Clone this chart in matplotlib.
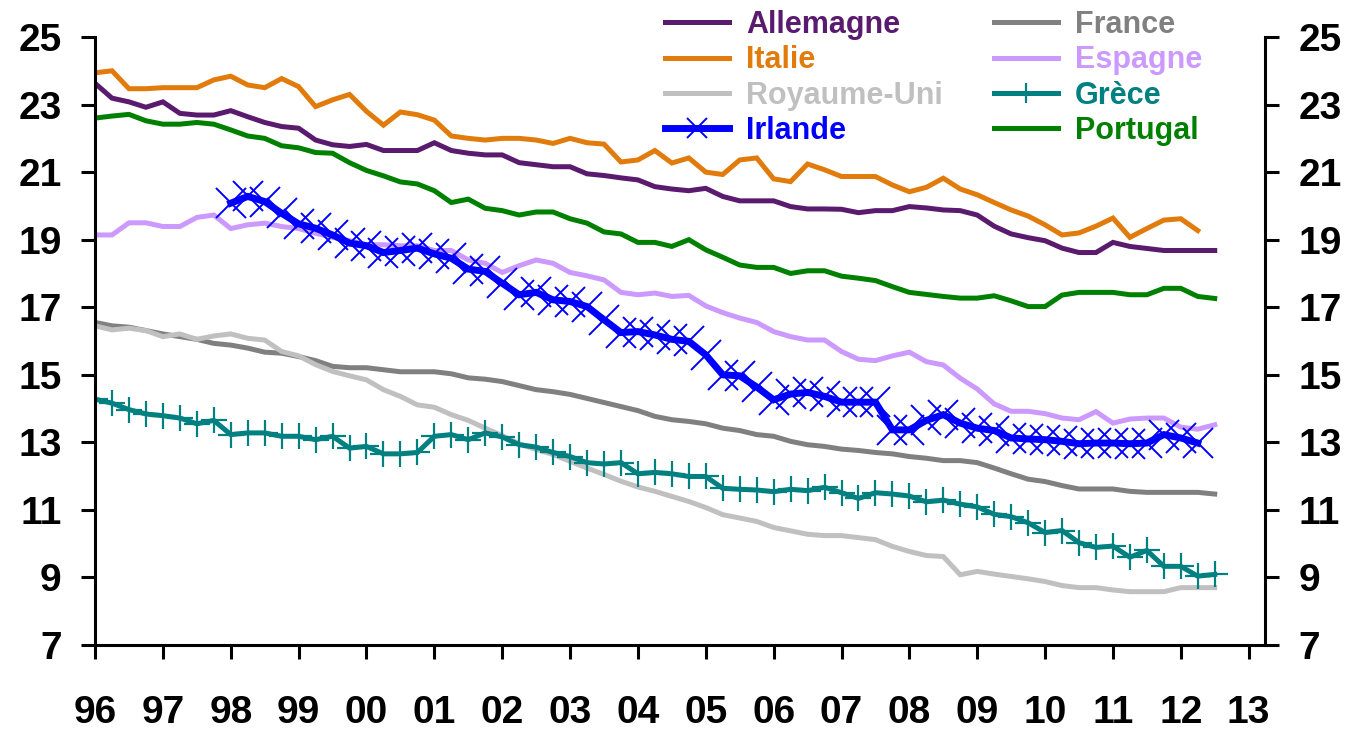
import numpy as np
import matplotlib
matplotlib.use("Agg")
import matplotlib.pyplot as plt

# Quarterly series, first point = 1996 Q1
allemagne = [23.63, 23.19, 23.08, 22.92, 23.08, 22.74, 22.69, 22.69, 22.82, 22.64,
             22.47, 22.35, 22.30, 21.95, 21.81, 21.76, 21.82, 21.64, 21.64, 21.64,
             21.87, 21.64, 21.56, 21.51, 21.51, 21.28, 21.22, 21.16, 21.16, 20.95,
             20.90, 20.83, 20.77, 20.57, 20.50, 20.45, 20.52, 20.28, 20.15, 20.15,
             20.15, 19.98, 19.91, 19.91, 19.90, 19.80, 19.86, 19.86, 19.98, 19.94,
             19.88, 19.86, 19.73, 19.40, 19.17, 19.06, 18.97, 18.75, 18.62, 18.62,
             18.92, 18.80, 18.74, 18.68, 18.68, 18.68, 18.68]
italie = [23.94, 24.00, 23.47, 23.47, 23.50, 23.50, 23.50, 23.73, 23.84, 23.58,
          23.50, 23.77, 23.53, 22.94, 23.14, 23.30, 22.80, 22.39, 22.78, 22.70,
          22.54, 22.07, 22.00, 21.95, 22.00, 22.00, 21.95, 21.85, 22.00, 21.87,
          21.83, 21.30, 21.36, 21.64, 21.27, 21.42, 21.00, 20.93, 21.36, 21.42,
          20.80, 20.72, 21.24, 21.07, 20.87, 20.87, 20.87, 20.62, 20.42, 20.55,
          20.82, 20.50, 20.33, 20.10, 19.88, 19.70, 19.44, 19.14, 19.20, 19.40,
          19.64, 19.07, 19.33, 19.58, 19.62, 19.27]
royaume_uni = [16.45, 16.33, 16.38, 16.31, 16.13, 16.21, 16.05, 16.15, 16.21, 16.08,
               16.03, 15.69, 15.56, 15.30, 15.10, 14.97, 14.85, 14.56, 14.36, 14.11,
               14.04, 13.82, 13.65, 13.42, 13.20, 12.96, 12.79, 12.64, 12.44, 12.24,
               12.05, 11.85, 11.68, 11.55, 11.40, 11.25, 11.07, 10.86, 10.76, 10.66,
               10.48, 10.38, 10.28, 10.24, 10.24, 10.18, 10.12, 9.92, 9.77, 9.65,
               9.62, 9.08, 9.18, 9.10, 9.03, 8.96, 8.88, 8.76, 8.70, 8.70,
               8.63, 8.58, 8.58, 8.58, 8.70, 8.70, 8.70]
irlande = [np.nan] * 8 + [
           20.08, 20.28, 20.13, 19.78, 19.47, 19.34, 19.14, 18.90, 18.82, 18.62,
           18.68, 18.75, 18.58, 18.45, 18.13, 18.06, 17.71, 17.37, 17.44, 17.22,
           17.17, 17.02, 16.63, 16.25, 16.28, 16.18, 16.05, 15.99, 15.59, 15.00,
           14.97, 14.64, 14.26, 14.43, 14.48, 14.36, 14.19, 14.19, 14.19, 13.37,
           13.37, 13.65, 13.82, 13.57, 13.42, 13.35, 13.13, 13.10, 13.08, 13.03,
           12.96, 12.98, 12.98, 12.96, 12.98, 13.23, 13.13, 12.98]
france = [16.55, 16.45, 16.41, 16.31, 16.21, 16.13, 16.05, 15.93, 15.88, 15.79,
          15.67, 15.64, 15.54, 15.42, 15.25, 15.21, 15.21, 15.15, 15.09, 15.09,
          15.09, 15.03, 14.91, 14.87, 14.80, 14.68, 14.56, 14.50, 14.42, 14.30,
          14.18, 14.06, 13.94, 13.77, 13.67, 13.62, 13.55, 13.42, 13.35, 13.23,
          13.18, 13.03, 12.93, 12.88, 12.80, 12.76, 12.70, 12.66, 12.58, 12.53,
          12.46, 12.46, 12.40, 12.24, 12.07, 11.91, 11.84, 11.72, 11.62, 11.62,
          11.62, 11.55, 11.52, 11.52, 11.52, 11.52, 11.47]
espagne = [19.14, 19.14, 19.50, 19.50, 19.39, 19.39, 19.66, 19.73, 19.33, 19.44,
           19.49, 19.39, 19.33, 19.19, 19.07, 18.97, 18.85, 18.85, 18.82, 18.82,
           18.68, 18.68, 18.40, 18.30, 18.03, 18.23, 18.40, 18.30, 18.03, 17.93,
           17.81, 17.44, 17.37, 17.42, 17.32, 17.35, 17.04, 16.84, 16.68, 16.55,
           16.28, 16.13, 16.03, 16.03, 15.69, 15.46, 15.42, 15.56, 15.67, 15.39,
           15.29, 14.90, 14.58, 14.14, 13.92, 13.92, 13.85, 13.72, 13.67, 13.91,
           13.57, 13.69, 13.72, 13.72, 13.45, 13.39, 13.52]
grece = [14.28, 14.16, 13.97, 13.84, 13.79, 13.72, 13.55, 13.65, 13.23, 13.28,
         13.28, 13.18, 13.18, 13.08, 13.18, 12.83, 12.88, 12.66, 12.66, 12.70,
         13.18, 13.23, 13.08, 13.28, 13.16, 12.93, 12.86, 12.70, 12.58, 12.40,
         12.36, 12.40, 12.07, 12.11, 12.07, 11.99, 11.99, 11.64, 11.61, 11.59,
         11.54, 11.61, 11.57, 11.67, 11.51, 11.34, 11.51, 11.47, 11.41, 11.24,
         11.29, 11.17, 11.09, 10.87, 10.80, 10.62, 10.33, 10.39, 10.03, 9.89,
         9.93, 9.60, 9.80, 9.33, 9.33, 9.04, 9.09]
portugal = [22.60, 22.66, 22.71, 22.52, 22.42, 22.42, 22.47, 22.42, 22.25, 22.07,
            22.00, 21.78, 21.72, 21.58, 21.56, 21.28, 21.05, 20.89, 20.71, 20.65,
            20.45, 20.10, 20.20, 19.93, 19.86, 19.73, 19.82, 19.82, 19.62, 19.49,
            19.23, 19.17, 18.92, 18.92, 18.80, 19.00, 18.70, 18.48, 18.25, 18.18,
            18.18, 18.00, 18.08, 18.08, 17.92, 17.86, 17.79, 17.61, 17.44, 17.38,
            17.32, 17.27, 17.27, 17.34, 17.19, 17.02, 17.02, 17.36, 17.44, 17.44,
            17.44, 17.37, 17.37, 17.56, 17.56, 17.32, 17.26]

annees = list(range(1996, 2014))
labels_annees = [str(a)[2:] for a in annees]
y_ticks = [7, 9, 11, 13, 15, 17, 19, 21, 23, 25]


def trimestres(serie):
    return 1996 + np.arange(len(serie)) / 4.0


plt.rcParams['font.family'] = ['Liberation Sans', 'DejaVu Sans']
plt.rcParams['font.weight'] = 'bold'

fig = plt.figure(figsize=(13.5, 7.33), dpi=100)
ax = fig.add_axes([0.0704, 0.12, 0.8666, 0.8295])

lw = 3.6
series = [
    ("Allemagne", allemagne, "#5A1B6E", {}),
    ("France", france, "#808080", {}),
    ("Italie", italie, "#E07B0C", {}),
    ("Espagne", espagne, "#CC99FF", {}),
    ("Royaume-Uni", royaume_uni, "#C0C0C0", {}),
    ("Grèce", grece, "#008080", dict(marker='+', markersize=19, markeredgewidth=1.6)),
    ("Irlande", irlande, "#0000FF", dict(marker='x', markersize=22, markeredgewidth=1.4, lw=5)),
    ("Portugal", portugal, "#008000", {}),
]

lignes = {}
for nom, vals, couleur, extra in series:
    kw = dict(lw=lw, solid_joinstyle='miter')
    kw.update(extra)
    ln, = ax.plot(trimestres(vals), vals, color=couleur, label=nom, **kw)
    lignes[nom] = (ln, couleur)

ax.set_xlim(1996, 2013.24)
ax.set_ylim(7, 25)
ax.set_xticks(annees)
ax.set_xticklabels(labels_annees)
ax.set_yticks(y_ticks)

for s in ['top', 'right']:
    ax.spines[s].set_visible(False)
for s in ['left', 'bottom']:
    ax.spines[s].set_linewidth(2.2)

ax.tick_params(axis='x', direction='out', length=10, width=2.2, pad=26, labelsize=28)
ax.tick_params(axis='y', direction='out', length=10, width=2.2, pad=14, labelsize=28)

ax2 = ax.twinx()
ax2.set_ylim(7, 25)
ax2.set_yticks(y_ticks)
for s in ['top', 'left', 'bottom']:
    ax2.spines[s].set_visible(False)
ax2.spines['right'].set_linewidth(2.2)
ax2.tick_params(axis='y', direction='out', length=10, width=2.2, pad=14, labelsize=28)

ordre = ["Allemagne", "Italie", "Royaume-Uni", "Irlande",
         "France", "Espagne", "Grèce", "Portugal"]
handles = [lignes[n][0] for n in ordre]
leg = ax.legend(handles, ordre, loc='upper left', bbox_to_anchor=(0.4815, 1.007),
                bbox_transform=fig.transFigure, ncol=2, frameon=False,
                fontsize=22, handlelength=2.1, handletextpad=0.55,
                columnspacing=1.67, labelspacing=0.17, borderpad=0.0)
for txt, n in zip(leg.get_texts(), ordre):
    txt.set_color(lignes[n][1])
for h in leg.legend_handles:
    if h.get_marker() in ('x', '+'):
        h.set_markersize(15)

fig.savefig("out.png", dpi=100)
